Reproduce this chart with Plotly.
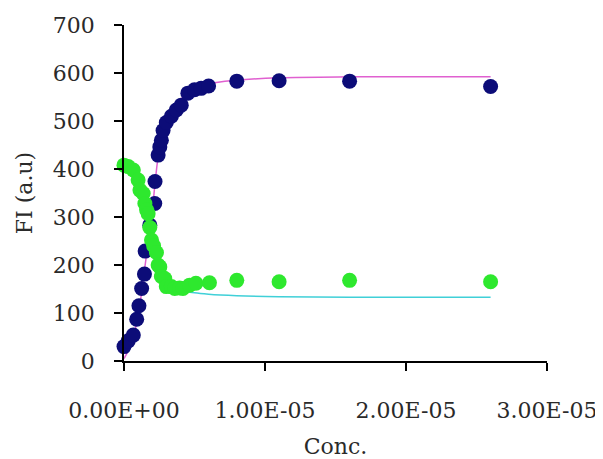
import plotly.graph_objects as go

# Data (concentration in M)
blue_x = [0, 0.3e-6, 0.66e-6, 0.9e-6, 1.06e-6, 1.25e-6, 1.45e-6, 1.5e-6, 1.83e-6, 2.18e-6, 2.2e-6,
          2.42e-6, 2.54e-6, 2.65e-6, 2.77e-6, 3.0e-6, 3.36e-6, 3.71e-6, 4.06e-6, 4.53e-6, 5.0e-6,
          5.47e-6, 6.0e-6, 8.0e-6, 1.1e-5, 1.6e-5, 2.6e-5]
blue_y = [30, 42, 54, 87, 115, 151, 181, 229, 283, 328, 374,
          429, 446, 460, 480, 497, 510, 523, 533, 558, 565,
          568, 573, 583, 584, 583, 572]

green_x = [0, 0.3e-6, 0.66e-6, 1.0e-6, 1.13e-6, 1.36e-6, 1.48e-6, 1.6e-6, 1.71e-6, 1.83e-6, 1.95e-6,
           2.1e-6, 2.3e-6, 2.42e-6, 2.54e-6, 2.65e-6, 2.89e-6, 3.0e-6, 3.36e-6, 3.6e-6, 3.94e-6,
           4.18e-6, 4.65e-6, 5.1e-6, 6.06e-6, 8.0e-6, 1.1e-5, 1.6e-5, 2.6e-5]
green_y = [408, 405, 398, 377, 356, 349, 328, 315, 307, 278, 252,
           240, 226, 200, 196, 176, 172, 155, 155, 151, 152,
           151, 158, 162, 163, 168, 165, 168, 165]

fit_blue_x = [0, 0.5e-6, 1.0e-6, 1.5e-6, 2.0e-6, 2.2e-6, 2.5e-6, 3.0e-6, 3.5e-6, 4.0e-6, 5.0e-6,
              6.0e-6, 8.0e-6, 1.1e-5, 1.6e-5, 2.6e-5]
fit_blue_y = [5, 35, 95, 200, 310, 370, 440, 495, 525, 545, 565,
              577, 585, 590, 592, 592]

fit_green_x = [0, 0.5e-6, 1.0e-6, 1.5e-6, 2.0e-6, 2.5e-6, 3.0e-6, 3.5e-6, 4.0e-6, 5.0e-6,
               6.0e-6, 8.0e-6, 1.1e-5, 1.6e-5, 2.6e-5]
fit_green_y = [412, 405, 385, 340, 275, 205, 170, 155, 148, 142,
               139, 136, 134, 133, 133]

x_tickvals = [0, 1e-5, 2e-5, 3e-5]
x_ticktext = ["0.00E+00", "1.00E-05", "2.00E-05", "3.00E-05"]
y_tickvals = [0, 100, 200, 300, 400, 500, 600, 700]

FONT = "DejaVu Serif"

fig = go.Figure()
fig.add_trace(go.Scatter(x=fit_blue_x, y=fit_blue_y, mode="lines",
                         line=dict(color="#e060d0", width=1.5, shape="spline"),
                         showlegend=False, hoverinfo="skip"))
fig.add_trace(go.Scatter(x=fit_green_x, y=fit_green_y, mode="lines",
                         line=dict(color="#40d0d8", width=1.5, shape="spline"),
                         showlegend=False, hoverinfo="skip"))
fig.add_trace(go.Scatter(x=blue_x, y=blue_y, mode="markers",
                         marker=dict(color="#0c0c78", size=15),
                         cliponaxis=False, showlegend=False))
fig.add_trace(go.Scatter(x=green_x, y=green_y, mode="markers",
                         marker=dict(color="#2ee82e", size=15),
                         cliponaxis=False, showlegend=False))

fig.update_layout(
    width=595, height=451,
    margin=dict(l=116, r=56, t=17, b=98, autoexpand=False),
    paper_bgcolor="white", plot_bgcolor="white",
    font=dict(family=FONT, size=22, color="#2a2a2a"),
    xaxis=dict(range=[0, 3e-5], tickvals=x_tickvals, ticktext=x_ticktext,
               showgrid=False, zeroline=False, showline=True, linecolor="black", linewidth=1.5,
               ticks="outside", ticklen=8, tickcolor="black", tickwidth=1.5,
               ticklabelstandoff=21,
               title=dict(text="Conc.", standoff=23, font=dict(family=FONT, size=22)),
               automargin=False),
    yaxis=dict(range=[0, 700], tickvals=y_tickvals,
               showgrid=False, zeroline=False, showline=True, linecolor="black", linewidth=1.5,
               ticks="outside", ticklen=8, tickcolor="black", tickwidth=1.5,
               ticklabelstandoff=15,
               title=dict(text="FI (a.u)", standoff=14, font=dict(family=FONT, size=22)),
               automargin=False),
)

fig.write_html("out.html")
